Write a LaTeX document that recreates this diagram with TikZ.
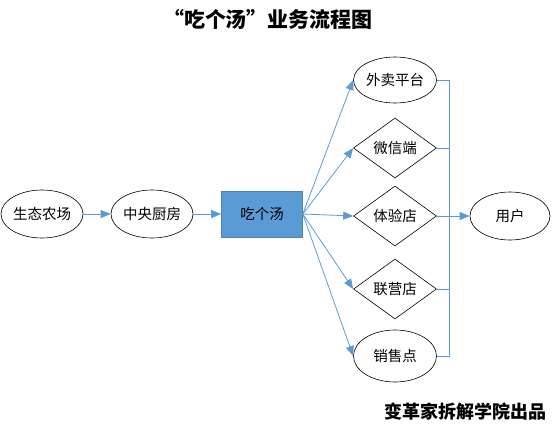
\documentclass[tikz,border=0pt]{standalone}
\usepackage{fontspec}
\newfontfamily\cjk{Noto Sans CJK SC}
\usetikzlibrary{shapes.geometric,arrows.meta}
\definecolor{lineblue}{HTML}{5B9BD5}
\definecolor{boxblue}{HTML}{5B9BD5}
\tikzset{
  oval/.style={ellipse,draw=black,line width=0.6pt,minimum width=82pt,minimum height=48pt,inner sep=0pt,font=\cjk\fontsize{14.5}{14.5}\selectfont},
  dia/.style={diamond,draw=black,line width=0.6pt,minimum width=83pt,minimum height=60pt,inner sep=0pt,aspect=1.4,font=\cjk\fontsize{14.5}{14.5}\selectfont},
  mainbox/.style={rectangle,fill=boxblue,draw=boxblue!85!black,line width=0.6pt,minimum width=81pt,minimum height=46pt,inner sep=0pt,font=\cjk\fontsize{14.5}{14.5}\selectfont},
  conn/.style={draw=lineblue,line width=0.8pt},
  arr/.style={conn,-{Triangle[length=10pt,width=8pt]}}
}
\begin{document}
\begin{tikzpicture}[x=1pt,y=-1pt]
\useasboundingbox (0,0) rectangle (558,432);
\node[font=\cjk\bfseries\fontsize{21}{21}\selectfont] (title) at (268,19) {“吃个汤”业务流程图};
\node[font=\cjk\bfseries\fontsize{18}{18}\selectfont] (foot) at (465,412) {变革家拆解学院出品};

\node[oval] (farm) at (42,214) {生态农场};
\node[oval] (kit) at (152,214) {中央厨房};
\node[mainbox] (main) at (262,214) {吃个汤};

\node[oval,minimum width=83pt,minimum height=46pt] (n1) at (395,80) {外卖平台};
\node[dia] (n2) at (395,148) {微信端};
\node[dia] (n3) at (395,216) {体验店};
\node[dia] (n4) at (395,289) {联营店};
\node[oval,minimum width=83pt,minimum height=52pt] (n5) at (395,356) {销售点};
\node[oval,minimum width=80pt,minimum height=48pt] (user) at (510,216) {用户};

\draw[arr] (farm) -- (kit);
\draw[arr] (kit) -- (main);
\foreach \n in {n1,n2,n3,n4,n5}{
  \draw[arr] (main.east) -- (\n.west);
}
\coordinate (bt) at (449,80);
\coordinate (bb) at (449,356);
\draw[conn] (n1.east) -- (bt) -- (bb) -- (n5.east);
\draw[conn] (n2.east) -- (n2.east -| bt);
\draw[conn] (n4.east) -- (n4.east -| bt);
\draw[arr] (n3.east) -- (user.west);
\end{tikzpicture}
\end{document}
